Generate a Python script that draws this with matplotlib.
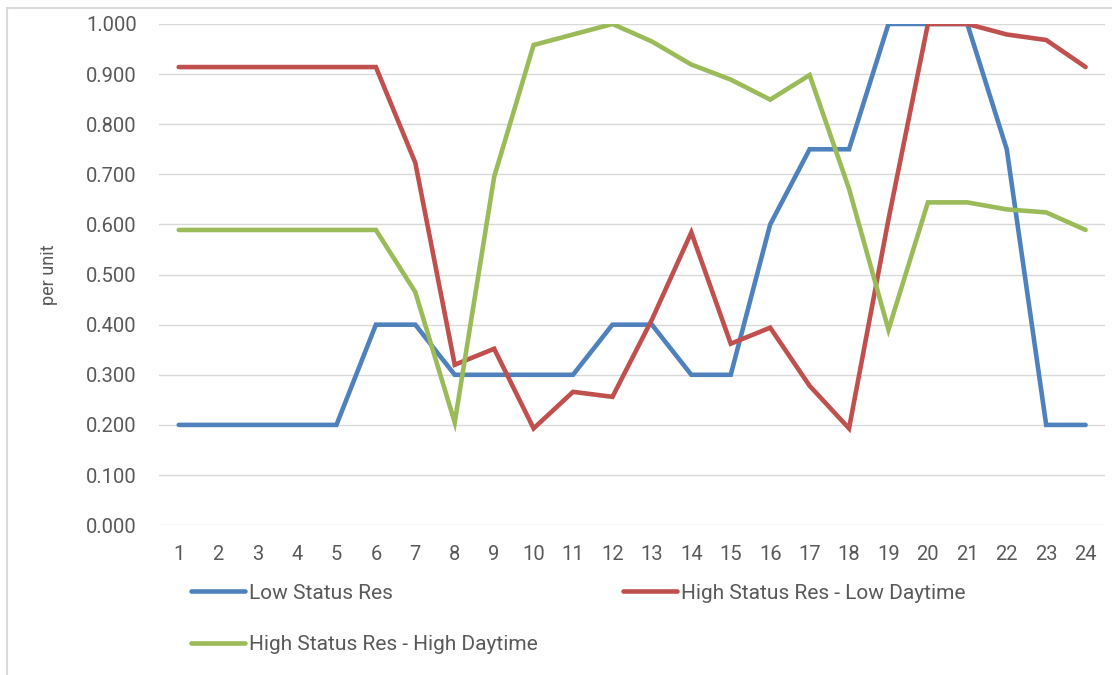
import matplotlib
matplotlib.use("Agg")
import matplotlib.pyplot as plt
from matplotlib.patches import Rectangle
from matplotlib.lines import Line2D

plt.rcParams['font.family'] = ['Roboto', 'DejaVu Sans']

hours = list(range(1, 25))

low_status = [0.200, 0.200, 0.200, 0.200, 0.200, 0.400, 0.400, 0.300,
              0.300, 0.300, 0.300, 0.400, 0.400, 0.300, 0.300, 0.600,
              0.750, 0.750, 1.000, 1.000, 1.000, 0.750, 0.200, 0.200]
high_low_day = [0.914, 0.914, 0.914, 0.914, 0.914, 0.914, 0.723, 0.320,
                0.352, 0.193, 0.266, 0.256, 0.410, 0.584, 0.362, 0.394,
                0.278, 0.193, 0.610, 1.000, 1.000, 0.979, 0.968, 0.914]
high_high_day = [0.589, 0.589, 0.589, 0.589, 0.589, 0.589, 0.465, 0.205,
                 0.695, 0.958, 0.979, 1.000, 0.965, 0.919, 0.889, 0.849,
                 0.898, 0.671, 0.390, 0.644, 0.644, 0.630, 0.624, 0.589]

series_names = ["Low Status Res", "High Status Res - Low Daytime",
                "High Status Res - High Daytime"]
colors = ["#4F81BD", "#C0504D", "#9BBB59"]

fig = plt.figure(figsize=(11.12, 6.75), dpi=100)
ax = fig.add_axes([0.143, 0.222, 0.851, 0.7425])

# chart area border
fig.patches.append(Rectangle((7 / 1112, -0.01), 1.0, 1 - 8 / 675 + 0.01,
                             transform=fig.transFigure, fill=False,
                             edgecolor="#D9D9D9", linewidth=1.5))

for vals, c in zip([low_status, high_low_day, high_high_day], colors):
    ax.plot(hours, vals, color=c, linewidth=3.3, solid_capstyle="round",
            solid_joinstyle="miter")

ax.set_xlim(0.5, 24.5)
ax.set_ylim(0, 1.0)
ax.set_yticks([i / 10 for i in range(11)])
ax.set_yticklabels([f"{i / 10:.3f}" for i in range(11)])
ax.set_xticks(hours)
ax.set_xticklabels([str(h) for h in hours])
ax.grid(axis="y", color="#D9D9D9", linewidth=1.0)
ax.set_axisbelow(True)
for s in ax.spines.values():
    s.set_visible(False)
ax.tick_params(length=0, labelsize=14.5, colors="#595959")
ax.tick_params(axis="x", pad=14)
ax.tick_params(axis="y", pad=16)
ax.set_ylabel("per unit", fontsize=13, color="#595959", labelpad=20)

handles = [Line2D([], [], color=c, linewidth=3.3, solid_capstyle="round")
           for c in colors]
# column-major fill: put the long name second so it lands under the first
order = [0, 2, 1]
ax.legend([handles[i] for i in order], [series_names[i] for i in order],
          ncol=2, loc="upper left", bbox_to_anchor=(0.0245, -0.10),
          bbox_transform=ax.transAxes, frameon=False, fontsize=15,
          labelcolor="#595959", handlelength=2.6, handletextpad=0.2,
          columnspacing=4.1, labelspacing=1.55, borderaxespad=0)

fig.savefig("out.png", dpi=100)
